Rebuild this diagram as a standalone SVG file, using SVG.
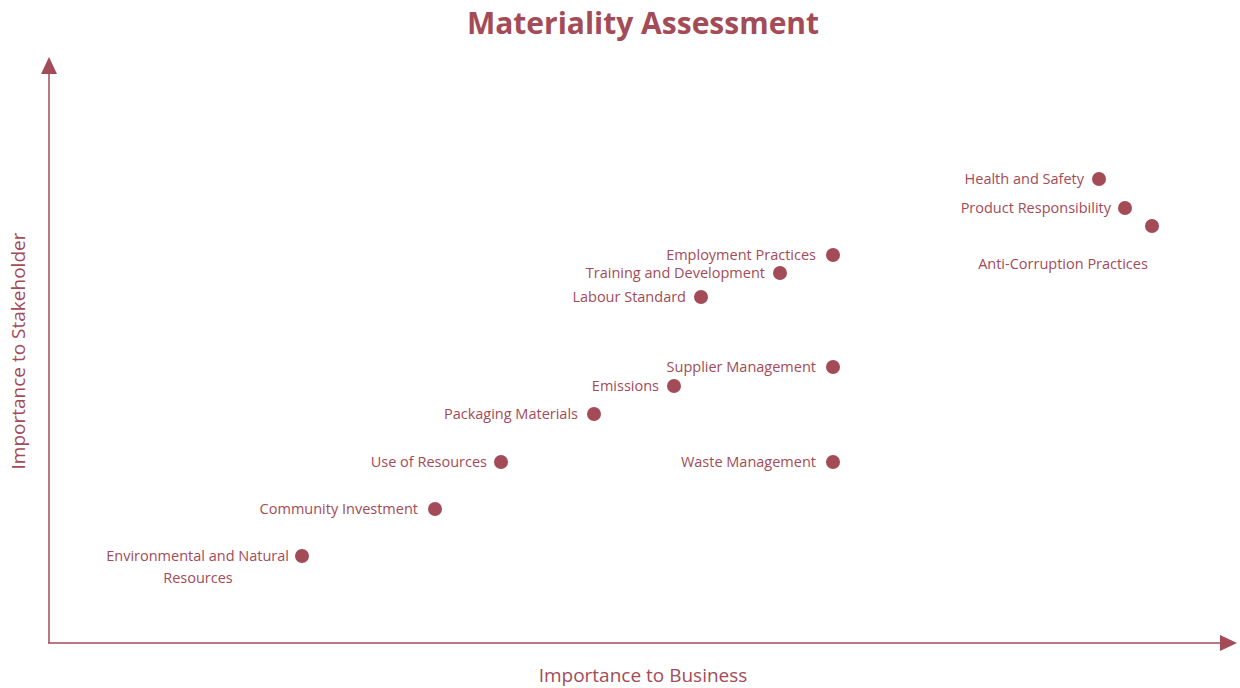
<svg xmlns="http://www.w3.org/2000/svg" width="1240" height="688" viewBox="0 0 1240 688">
<style>
text{font-family:"Open Sans","Noto Sans","Liberation Sans",sans-serif;fill:#a34b57}
.lbl{font-size:14.5px;text-anchor:end}
.ax{font-size:19px;text-anchor:middle}
.dot{fill:#a34b57}
.axis{stroke:#a34b57;stroke-width:1.5;fill:none}
</style>
<defs>
<marker id="arr" markerWidth="10" markerHeight="10" refX="0" refY="5" orient="auto" markerUnits="userSpaceOnUse" viewBox="0 0 10 10"><path d="M0,0 L10,5 L0,10 Z" fill="#a34b57"/></marker>
</defs>
<rect width="1240" height="688" fill="#fff"/>
<text x="643" y="34" style="font-size:30px;font-weight:bold;text-anchor:middle">Materiality Assessment</text>
<g id="axes">
<line class="axis" x1="49" y1="643" x2="49" y2="73"/>
<path d="M41,74 L49,57 L57,74 Z" fill="#a34b57"/>
<line class="axis" x1="48" y1="643" x2="1221" y2="643"/>
<path d="M1220,635 L1237,643 L1220,651 Z" fill="#a34b57"/>
<text class="ax" x="643" y="682">Importance to Business</text>
<text class="ax" transform="translate(25,351) rotate(-90)">Importance to Stakeholder</text>
</g>
<g id="n-health"><circle class="dot" cx="1099" cy="179" r="7"/><text class="lbl" x="1084" y="184">Health and Safety</text></g>
<g id="n-product"><circle class="dot" cx="1125" cy="208" r="7"/><text class="lbl" x="1111" y="213">Product Responsibility</text></g>
<g id="n-anticorruption"><circle class="dot" cx="1152" cy="226" r="7"/><text class="lbl" x="1063" y="269" style="text-anchor:middle">Anti-Corruption Practices</text></g>
<g id="n-employment"><circle class="dot" cx="833" cy="255" r="7"/><text class="lbl" x="816" y="260">Employment Practices</text></g>
<g id="n-training"><circle class="dot" cx="780" cy="273" r="7"/><text class="lbl" x="765" y="278">Training and Development</text></g>
<g id="n-labour"><circle class="dot" cx="701" cy="297" r="7"/><text class="lbl" x="686" y="302">Labour Standard</text></g>
<g id="n-supplier"><circle class="dot" cx="833" cy="367" r="7"/><text class="lbl" x="816" y="372">Supplier Management</text></g>
<g id="n-emissions"><circle class="dot" cx="674" cy="386" r="7"/><text class="lbl" x="659" y="391">Emissions</text></g>
<g id="n-packaging"><circle class="dot" cx="594" cy="414" r="7"/><text class="lbl" x="578" y="419">Packaging Materials</text></g>
<g id="n-resources"><circle class="dot" cx="501" cy="462" r="7"/><text class="lbl" x="487" y="467">Use of Resources</text></g>
<g id="n-waste"><circle class="dot" cx="833" cy="462" r="7"/><text class="lbl" x="816" y="467">Waste Management</text></g>
<g id="n-community"><circle class="dot" cx="435" cy="509" r="7"/><text class="lbl" x="418" y="514">Community Investment</text></g>
<g id="n-environment"><circle class="dot" cx="302" cy="556" r="7"/><text class="lbl" x="289" y="561">Environmental and Natural</text><text class="lbl" x="198" y="583" style="text-anchor:middle">Resources</text></g>
<g id="connectors"></g>
</svg>
